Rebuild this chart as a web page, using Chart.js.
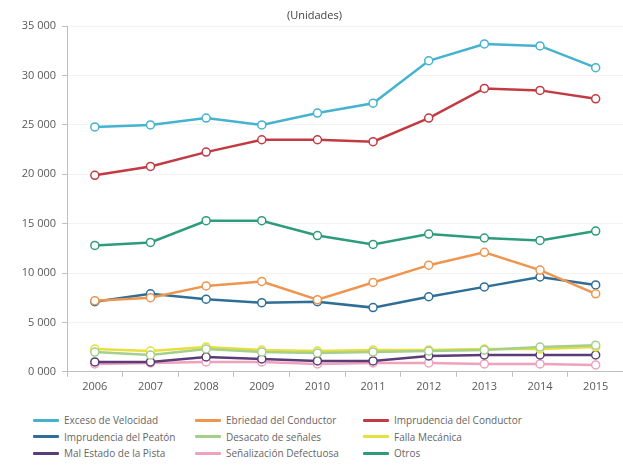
<!DOCTYPE html>
<html>
<head>
<meta charset="utf-8">
<script src="https://cdn.jsdelivr.net/npm/chart.js@4.4.0/dist/chart.umd.min.js"></script>
<style>
  body { margin: 0; background: #fff; font-family: "Open Sans", sans-serif; overflow: hidden; }
  #wrap { position: relative; width: 623px; height: 466px; overflow: hidden; }
  #chart { position: absolute; left: 0; top: 0; }
  #legend {
    position: absolute; left: 33px; top: 412px;
    display: grid; grid-template-columns: 162px 168px 230px;
    grid-auto-rows: 16.5px; font-size: 10px; color: #666666;
  }
  .item { display: flex; align-items: center; white-space: nowrap; }
  .swatch { width: 26px; height: 3px; margin-right: 5px; border-radius: 1px; }
</style>
</head>
<body>
<div id="wrap">
  <canvas id="chart" width="629" height="398"></canvas>
  <div id="legend"></div>
</div>
<script>
var years = ['2006', '2007', '2008', '2009', '2010', '2011', '2012', '2013', '2014', '2015'];

var excesoVelocidad    = [24800, 25000, 25700, 25000, 26200, 27200, 31500, 33200, 33000, 30800];
var ebriedadConductor  = [7200, 7500, 8700, 9150, 7300, 9050, 10800, 12100, 10300, 7900];
var imprudConductor    = [19900, 20800, 22250, 23500, 23500, 23300, 25700, 28700, 28500, 27650];
var imprudPeaton       = [7100, 7900, 7350, 7000, 7100, 6500, 7600, 8600, 9600, 8800];
var desacatoSenales    = [2000, 1700, 2300, 2000, 1900, 2000, 2100, 2200, 2500, 2700];
var fallaMecanica      = [2300, 2100, 2500, 2200, 2100, 2200, 2200, 2300, 2300, 2500];
var malEstadoPista     = [1000, 1000, 1500, 1300, 1100, 1100, 1600, 1700, 1700, 1700];
var senalizacionDef    = [800, 900, 1000, 1000, 800, 900, 900, 800, 800, 700];
var otros              = [12800, 13100, 15300, 15300, 13800, 12900, 13950, 13550, 13300, 14250];

var seriesNames = ['Exceso de Velocidad', 'Ebriedad del Conductor', 'Imprudencia del Conductor',
                   'Imprudencia del Peatón', 'Desacato de señales', 'Falla Mecánica',
                   'Mal Estado de la Pista', 'Señalización Defectuosa', 'Otros'];
var seriesData = [excesoVelocidad, ebriedadConductor, imprudConductor, imprudPeaton,
                  desacatoSenales, fallaMecanica, malEstadoPista, senalizacionDef, otros];
var seriesColors = ['#45B3CF', '#EE9550', '#C23A42', '#2F6E96', '#A5CF8C',
                    '#E6DF3C', '#5A3C78', '#EFA2BC', '#2E9C7C'];

var datasets = seriesNames.map(function (name, i) {
    return {
        label: name,
        data: seriesData[i],
        borderColor: seriesColors[i],
        backgroundColor: '#ffffff',
        pointBackgroundColor: '#ffffff',
        pointBorderColor: seriesColors[i],
        pointBorderWidth: 1.5,
        pointRadius: 4,
        borderWidth: 2.5,
        tension: 0,
        fill: false
    };
});

function fmt(v) {
    if (v === 0) return '0 000';
    var s = String(v);
    return s.slice(0, s.length - 3) + ' ' + s.slice(-3);
}

new Chart(document.getElementById('chart').getContext('2d'), {
    type: 'line',
    data: { labels: years, datasets: datasets },
    options: {
        responsive: false,
        animation: false,
        layout: { padding: { top: 0, right: 0, bottom: 2, left: 0 } },
        plugins: {
            legend: { display: false },
            tooltip: { enabled: false },
            title: {
                display: true,
                text: '(Unidades)',
                color: '#404040',
                font: { family: 'Open Sans', size: 11, weight: 'normal' },
                padding: { top: 9, bottom: 4 }
            }
        },
        scales: {
            x: {
                offset: true,
                grid: { offset: true, drawOnChartArea: false, color: '#BFBFBF', tickLength: 5 },
                border: { color: '#BFBFBF' },
                ticks: { color: '#595959', font: { family: 'Open Sans', size: 11 }, padding: 3 }
            },
            y: {
                min: 0,
                max: 35000,
                ticks: {
                    stepSize: 5000,
                    color: '#595959',
                    font: { family: 'Open Sans', size: 11 },
                    padding: 6,
                    callback: function (v) { return fmt(v); }
                },
                grid: { color: '#F3F3F3', tickLength: 5, tickColor: '#BFBFBF' },
                border: { color: '#BFBFBF' },
                afterFit: function (scale) { scale.width = 67; }
            }
        }
    }
});

var legend = document.getElementById('legend');
seriesNames.forEach(function (name, i) {
    var item = document.createElement('div');
    item.className = 'item';
    item.innerHTML = '<span class="swatch" style="background:' + seriesColors[i] + '"></span>' + name;
    legend.appendChild(item);
});
</script>
</body>
</html>
